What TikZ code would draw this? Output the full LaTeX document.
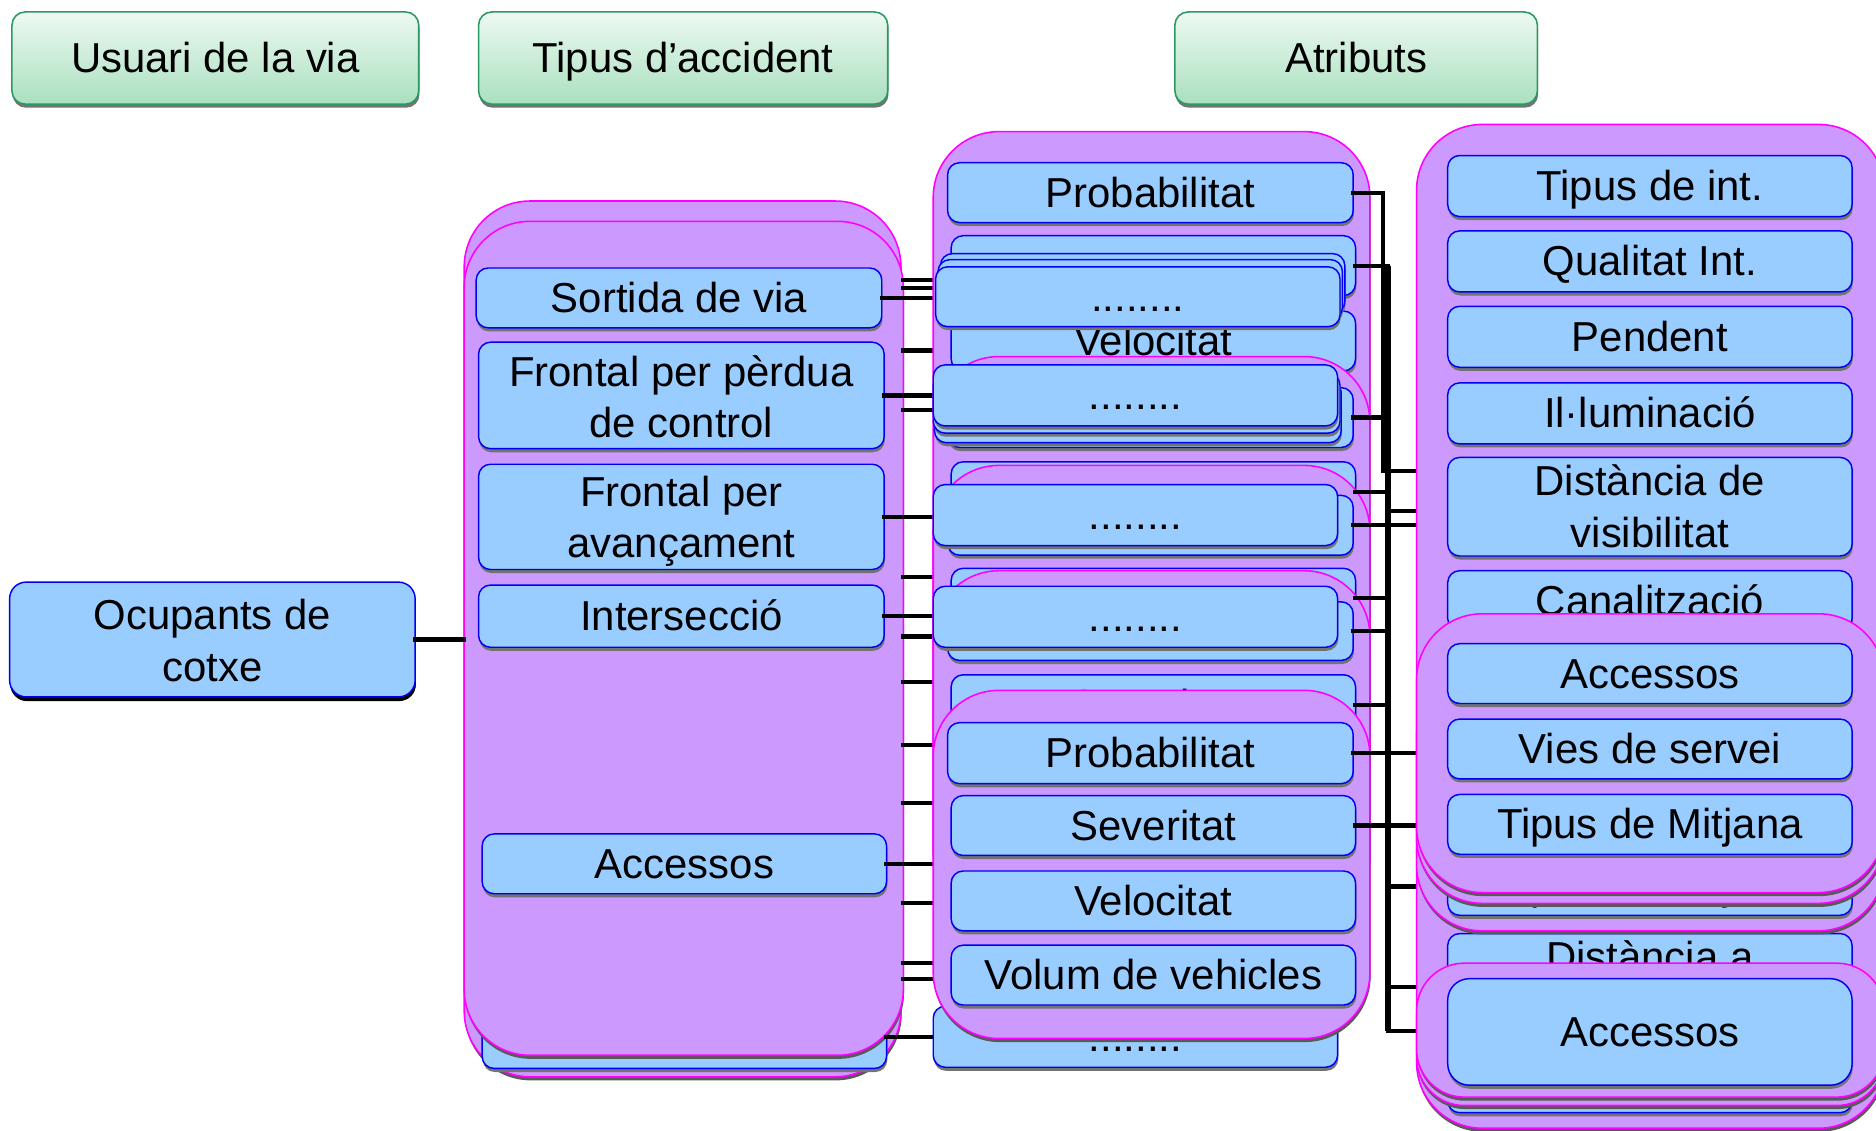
\documentclass[tikz,border=0pt]{standalone}
\usepackage{fontspec}
\setmainfont{Liberation Sans}
\usetikzlibrary{shadows}
\definecolor{boxblue}{HTML}{99CCFF}
\definecolor{boxedge}{HTML}{0000F0}
\definecolor{frpurple}{HTML}{CC99FF}
\definecolor{fredge}{HTML}{FF00FF}
\definecolor{hdrtop}{HTML}{EEF9F2}
\definecolor{hdrbot}{HTML}{A9E0BF}
\definecolor{hdredge}{HTML}{2A9A62}
\newcommand\bigfont{\fontsize{35}{43}\selectfont}
\newcommand\mystrut{\rule[-7.4pt]{0pt}{39.1pt}}
% two-line text: top height, bottom depth, line 1, line 2
\newcommand\twol[4]{\rule{0pt}{#1pt}#3\\#4\rule[-#2pt]{0pt}{#2pt}}
\newcommand\mybox[7]{\node[#1, minimum width={#5pt-#3pt}, minimum height={#6pt-#4pt}] (#2) at ({(#3+#5)/2},{(#4+#6)/2}) {#7};}
\pgfdeclarelayer{la}\pgfdeclarelayer{lb}\pgfdeclarelayer{lc}\pgfdeclarelayer{ld}
\pgfsetlayers{la,lb,lc,ld,main}
\begin{document}
\begin{tikzpicture}[x=1pt,y=-1pt,
  txt/.style={inner sep=0pt, outer sep=0pt, align=center, font=\bigfont,
    execute at begin node=\mystrut, execute at end node=\mystrut},
  ml/.style={execute at begin node={}, execute at end node={}},
  bb/.style={txt, draw=boxedge, fill=boxblue, line width=1.2pt, rounded corners=10pt,
    drop shadow={shadow xshift=0.6pt, shadow yshift=-3pt, fill=black!55, opacity=1}},
  bbk/.style={bb, rounded corners=14pt,
    drop shadow={shadow xshift=0.6pt, shadow yshift=-3.5pt, fill=black, opacity=1}},
  pp/.style={inner sep=0pt, outer sep=0pt, draw=fredge, fill=frpurple, line width=1.3pt,
    rounded corners=55pt,
    drop shadow={shadow xshift=0.6pt, shadow yshift=-3pt, fill=black!65, opacity=1}},
  pps/.style={pp, rounded corners=40pt},
  hdr/.style={txt, draw=hdredge, line width=1.3pt, top color=hdrtop, bottom color=hdrbot,
    rounded corners=11pt,
    drop shadow={shadow xshift=0.6pt, shadow yshift=-3pt, fill=black!55, opacity=1}},
  conn/.style={draw=black, line width=3.5pt, line cap=rect},
  busline/.style={draw=black, line width=5.5pt}
]
\useasboundingbox (0,0) rectangle (1568,945);
\begin{pgfonlayer}{la}
\fill[white] (0,0) rectangle (1568,945);
% headers
\mybox{hdr}{h1}{10}{10}{350}{87}{Usuari de la via}
\mybox{hdr}{h2}{400}{10}{742}{87}{Tipus d’accident}
\mybox{hdr}{h3}{982}{10}{1285}{87}{Atributs}
% road user
\mybox{bbk,ml}{oc}{8}{487}{347}{582}{\twol{40}{13}{Ocupants de}{cotxe}}
% accident types column
\mybox{pp}{c2b}{388}{168}{753}{900}{}
\mybox{bb}{c2hid}{403}{840}{741}{893}{}
\mybox{pp}{c2f}{388}{185}{755}{882}{}
\mybox{bb}{sv}{398}{224}{737}{274}{Sortida de via}
\mybox{bb,ml}{fpc}{400}{286}{739}{375}{\twol{37}{9}{Frontal per pèrdua}{de control}}
\mybox{bb,ml}{fav}{400}{388}{739}{476}{\twol{35}{10}{Frontal per}{avançament}}
\mybox{bb}{int}{400}{489}{739}{541}{Intersecció}
\mybox{bb}{acc}{403}{697}{741}{747}{Accessos}
\end{pgfonlayer}

\begin{pgfonlayer}{lc}
% middle column, frame 0
\mybox{pp}{p3}{780}{110}{1145}{400}{}
\mybox{bb}{m0a}{792}{136}{1131}{186}{Probabilitat}
\mybox{bb}{m0b}{795}{197}{1133}{247}{}
\mybox{bb}{m0c}{795}{260}{1133}{310}{Velocitat}
\mybox{bb}{d0c}{786}{212}{1124}{262}{}
\mybox{bb}{d0b}{784}{217}{1122}{267}{}
\mybox{bb}{d0a}{782}{223}{1120}{273}{........}
% frame 1
\mybox{pp}{f1}{780}{298}{1145}{590}{}
\mybox{bb}{m1a}{792}{324}{1131}{374}{}
\mybox{bb}{m1b}{795}{386}{1133}{436}{}
\mybox{bb}{d1c}{781}{318}{1121}{370}{}
\mybox{bb}{d1b}{780}{312}{1120}{362}{}
\mybox{bb}{d1a}{780}{305}{1118}{356}{........}
% frame 2
\mybox{pp}{f2}{780}{389}{1145}{680}{}
\mybox{bb}{m2a}{792}{414}{1131}{464}{}
\mybox{bb}{m2b}{795}{475}{1133}{525}{}
\mybox{bb}{d2a}{780}{405}{1118}{456}{........}
% frame 3
\mybox{pp}{f3}{780}{477}{1145}{768}{}
\mybox{bb}{m3a}{792}{503}{1131}{552}{}
\mybox{bb}{m3b}{795}{564}{1133}{614}{Severitat}
\mybox{bb}{d3a}{780}{490}{1118}{541}{........}
% bottom collapsed box
\mybox{bb}{d4a}{780}{841}{1118}{892}{........}
% frame 4
\mybox{pp}{f4}{780}{577}{1145}{868}{}
\mybox{bb}{m4a}{792}{604}{1131}{655}{Probabilitat}
\mybox{bb}{m4b}{795}{665}{1133}{715}{Severitat}
\mybox{bb}{m4c}{795}{728}{1133}{778}{Velocitat}
\mybox{bb}{m4d}{795}{790}{1133}{840}{Volum de vehicles}
\end{pgfonlayer}

% right column (main layer)
\mybox{pp}{p4}{1184}{104}{1575}{943}{}
\mybox{bb}{r1}{1210}{130}{1548}{181}{Tipus de int.}
\mybox{bb}{r2}{1210}{193}{1548}{244}{Qualitat Int.}
\mybox{bb}{r3}{1210}{256}{1548}{307}{Pendent}
\mybox{bb}{r4}{1210}{320}{1548}{371}{Il·luminació}
\mybox{bb,ml}{r5}{1210}{383}{1548}{464}{\twol{32}{6}{Distància de}{visibilitat}}
\mybox{bb}{r6}{1210}{477}{1548}{527}{Canalització}
\mybox{bb,ml}{r7}{1210}{781}{1548}{862}{\twol{32}{6}{Distància a}{}}
\mybox{bb}{r8}{1210}{880}{1548}{930}{}
\mybox{pp}{q1}{1184}{560}{1575}{778}{}
\mybox{bb}{q1c}{1210}{715}{1548}{765}{Tipus de Mitjana}
\mybox{pp}{q2}{1184}{516}{1575}{755}{}
\mybox{pp}{q3}{1184}{513}{1575}{746}{}
\mybox{bb}{qa}{1210}{538}{1548}{588}{Accessos}
\mybox{bb}{qb}{1210}{601}{1548}{651}{Vies de servei}
\mybox{bb}{qc}{1210}{664}{1548}{714}{Tipus de Mitjana}
\mybox{pps}{q4}{1184}{810}{1575}{924}{}
\mybox{pps}{q5}{1184}{805}{1575}{917}{}
\mybox{bb, rounded corners=18pt}{qd}{1210}{818}{1548}{907}{Accessos}

% connectors, left
\begin{pgfonlayer}{lb}
\draw[conn] (oc.east) -- (oc.east -| c2b.west);
\draw[conn] (sv.east) -- (sv.east -| p3.west);
\draw[conn] (fpc.east) -- (fpc.east -| p3.west);
\draw[conn] (fav.east) -- (fav.east -| p3.west);
\draw[conn] (int.east) -- (int.east -| p3.west);
\draw[conn] (acc.east) -- (acc.east -| p3.west);
\draw[conn] (c2hid.east) -- (c2hid.east -| d4a.west);
\foreach \yy [count=\i] in {234,241,293,343,482,532,570,623,671,755,805,818}{
  \coordinate (ls\i) at (755,\yy);
  \draw[conn] (ls\i) -- (ls\i -| p3.west);
}
\end{pgfonlayer}

% connectors, right
\begin{pgfonlayer}{ld}
\coordinate (bus1) at (1156,160);
\coordinate (bus1e) at (1156,394);
\coordinate (bus2) at (1160,221);
\coordinate (bus2e) at (1160,862);
\draw[conn] (m0a.east) -- (m0a.east -| bus1) -- (bus1e) -- (bus1e -| p4.west);
\draw[conn] (m0b.east) -- (m0b.east -| bus2);
\draw[busline] (bus2 |- m0b.east) -- (bus2e);
\draw[conn] (bus2e) -- (bus2e -| p4.west);
\foreach \n in {m1a,m1b,m2b,m3a,m3b}{
  \draw[conn] (\n.east) -- (\n.east -| bus2);
}
\foreach \n in {m2a,m4a,m4b}{
  \draw[conn] (\n.east) -- (\n.east -| p4.west);
}
\foreach \yy [count=\i] in {427,741,825}{
  \coordinate (rs\i) at (1160,\yy);
  \draw[conn] (rs\i) -- (rs\i -| p4.west);
}
\end{pgfonlayer}
\end{tikzpicture}
\end{document}
